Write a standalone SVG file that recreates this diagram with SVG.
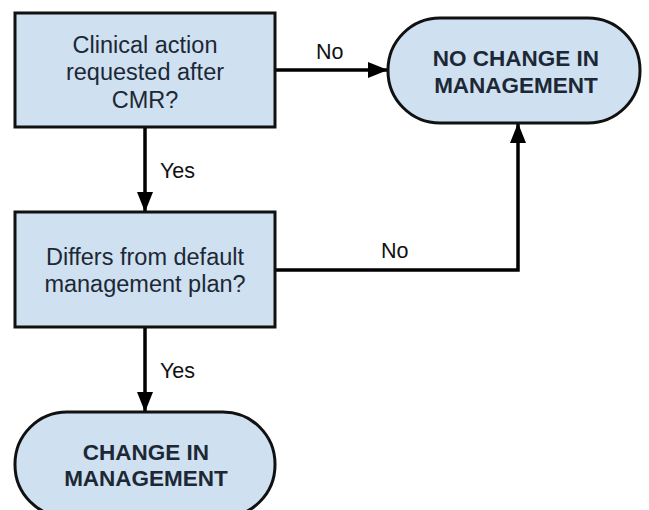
<svg xmlns="http://www.w3.org/2000/svg" width="649" height="510" viewBox="0 0 649 510">
<defs>
<style>
.box{fill:#cfe0f1;stroke:#111;stroke-width:3}
.t{font-family:"Liberation Sans",Arial,sans-serif;font-size:23.5px;fill:#1c2835;text-anchor:middle}
.b{font-weight:bold;font-size:22.5px}
.lbl{font-family:"Liberation Sans",Arial,sans-serif;font-size:21.5px;fill:#111}
.c{fill:none;stroke:#000;stroke-width:3.5}
</style>
<marker id="ah" viewBox="0 0 20 16" refX="20" refY="8" markerWidth="20" markerHeight="16" markerUnits="userSpaceOnUse" orient="auto">
<path d="M0,0 L20,8 L0,16 Z" fill="#000"/>
</marker>
</defs>
<rect width="649" height="510" fill="#fff"/>
<g id="connectors">
<line class="c" x1="275" y1="70" x2="388" y2="70" marker-end="url(#ah)"/>
<line class="c" x1="145" y1="127" x2="145" y2="212" marker-end="url(#ah)"/>
<polyline class="c" points="275,270 518,270 518,123" marker-end="url(#ah)"/>
<line class="c" x1="145" y1="327" x2="145" y2="412" marker-end="url(#ah)"/>
<text class="lbl" x="316" y="59">No</text>
<text class="lbl" x="160" y="178">Yes</text>
<text class="lbl" x="381" y="258">No</text>
<text class="lbl" x="160" y="378">Yes</text>
</g>
<g id="q1">
<rect class="box" x="15" y="13" width="260" height="114"/>
<text class="t" x="145" y="53">Clinical action</text>
<text class="t" x="145" y="80">requested after</text>
<text class="t" x="145" y="108">CMR?</text>
</g>
<g id="q2">
<rect class="box" x="15" y="212" width="260" height="115"/>
<text class="t" x="145" y="265">Differs from default</text>
<text class="t" x="145" y="292">management plan?</text>
</g>
<g id="nochange">
<rect class="box" x="388" y="18" width="252" height="105" rx="52" ry="52"/>
<text class="t b" x="516" y="66">NO CHANGE IN</text>
<text class="t b" x="516" y="93">MANAGEMENT</text>
</g>
<g id="change">
<rect class="box" x="15" y="412" width="260" height="105" rx="52" ry="52"/>
<text class="t b" x="146" y="460">CHANGE IN</text>
<text class="t b" x="146" y="486">MANAGEMENT</text>
</g>
</svg>
